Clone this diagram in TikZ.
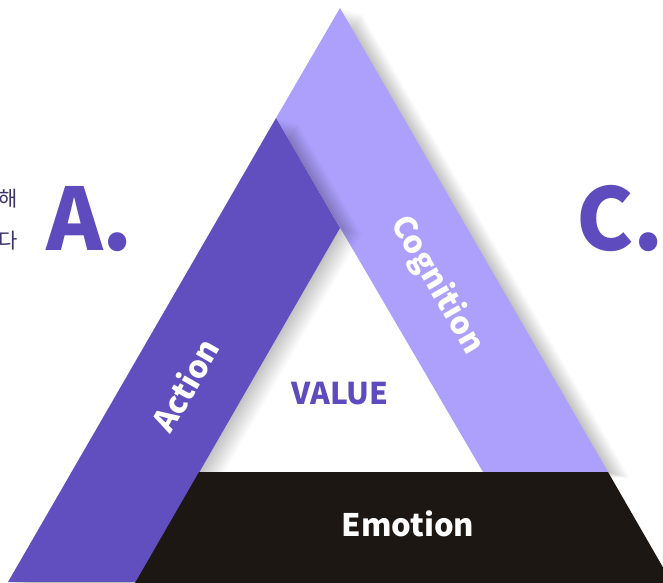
\documentclass[tikz,border=0pt]{standalone}
\usepackage{fontspec}
\setmainfont{Noto Sans CJK KR}
\definecolor{darkp}{HTML}{624FBF}
\definecolor{lightp}{HTML}{ADA0FD}
\definecolor{blk}{HTML}{1C1713}
\definecolor{txtp}{HTML}{5E4BBE}
\definecolor{kor}{HTML}{3B336B}
\newcommand\lightbandpath{(340,8) -- (608,472) -- (483,472) -- (276,118) -- cycle}
\newcommand\darkbandpath{(276,118) -- (340,228) -- (136,582) -- (8,582) -- cycle}
\tikzset{
  shadowstep/.style={fill=black, opacity=0.012},
  bandlabel/.style={text=white, font=\bfseries\fontsize{31}{36}\selectfont, inner sep=0pt},
  bigletter/.style={text=txtp, font=\bfseries\fontsize{86}{90}\selectfont, inner sep=0pt, anchor=base west},
  kortext/.style={text=kor, font=\fontsize{21}{24}\selectfont, inner sep=0pt, anchor=base east}
}
\begin{document}
\begin{tikzpicture}[x=1pt,y=-1pt]
\useasboundingbox (0,0) rectangle (663,582);
\clip (0,0) rectangle (663,582);
\fill[white] (0,0) rectangle (663,582);
% Cognition band (light) with soft shadow
\foreach \i in {1,...,20} {
  \fill[shadowstep, xshift=1.1*\i pt, yshift=-0.3*\i pt] \lightbandpath;
}
\fill[lightp] \lightbandpath;
% Action band (dark) with soft shadow
\foreach \i in {1,...,20} {
  \fill[shadowstep, xshift=1.1*\i pt, yshift=-0.3*\i pt] \darkbandpath;
}
\fill[darkp] \darkbandpath;
% Emotion band (black)
\fill[blk] (199,472) -- (608,472) -- (672,583) -- (135,583) -- cycle;
% labels
\node[bandlabel, rotate=60] (action) at (185,385) {Action};
\node[bandlabel, rotate=-60] (cognition) at (437,285) {Cognition};
\node[bandlabel] (emotion) at (408,524) {Emotion};
\node[text=txtp, font=\bfseries\fontsize{30}{34}\selectfont, inner sep=0pt] (value) at (340,394) {VALUE};
\node[bigletter] (a) at (46,250) {A.};
\node[bigletter] (c) at (576,250) {C.};
\node[kortext] (k1) at (18,206) {해};
\node[kortext] (k2) at (18,248) {다};
\end{tikzpicture}
\end{document}
